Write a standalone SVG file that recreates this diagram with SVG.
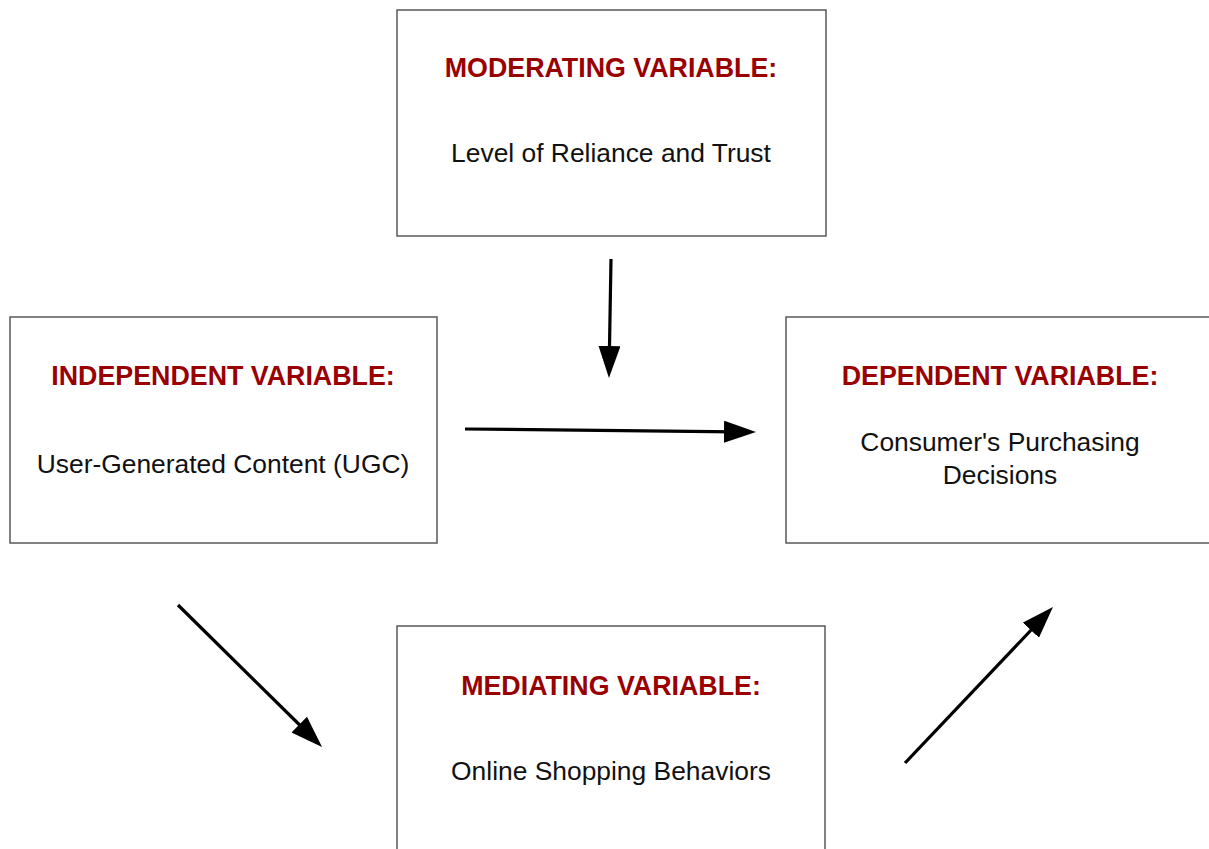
<svg xmlns="http://www.w3.org/2000/svg" width="1209" height="849" viewBox="0 0 1209 849">
  <style>
    .box { fill: #ffffff; stroke: #595959; stroke-width: 1.5; }
    .title { font-family: "Liberation Sans", Arial, sans-serif; font-weight: bold; font-size: 26.8px; fill: #990000; text-anchor: middle; }
    .body { font-family: "Liberation Sans", Arial, sans-serif; font-size: 26.4px; fill: #111111; text-anchor: middle; }
    .link { stroke: #000000; stroke-width: 3.2; fill: none; marker-end: url(#head); }
  </style>
  <defs>
    <marker id="head" markerUnits="userSpaceOnUse" markerWidth="32" markerHeight="22" refX="12" refY="11" orient="auto">
      <path d="M0,0 L32,11 L0,22 z" fill="#000000"/>
    </marker>
  </defs>
  <rect width="1209" height="849" fill="#ffffff"/>

  <g id="moderating">
    <rect class="box" x="397" y="10" width="429" height="226"/>
    <text class="title" x="611" y="77">MODERATING VARIABLE:</text>
    <text class="body" x="611" y="162">Level of Reliance and Trust</text>
  </g>

  <g id="independent">
    <rect class="box" x="10" y="317" width="427" height="226"/>
    <text class="title" x="223" y="385">INDEPENDENT VARIABLE:</text>
    <text class="body" x="223" y="473">User-Generated Content (UGC)</text>
  </g>

  <g id="dependent">
    <rect class="box" x="786" y="317" width="428" height="226"/>
    <text class="title" x="1000" y="385">DEPENDENT VARIABLE:</text>
    <text class="body" x="1000" y="451">Consumer's Purchasing</text>
    <text class="body" x="1000" y="484">Decisions</text>
  </g>

  <g id="mediating">
    <rect class="box" x="397" y="626" width="428" height="240"/>
    <text class="title" x="611" y="695">MEDIATING VARIABLE:</text>
    <text class="body" x="611" y="780">Online Shopping Behaviors</text>
  </g>

  <g id="connectors">
    <line class="link" x1="611" y1="259" x2="609.3" y2="358"/>
    <line class="link" x1="465" y1="429" x2="736" y2="431.8"/>
    <line class="link" x1="178" y1="605" x2="307.8" y2="733"/>
    <line class="link" x1="905" y1="763" x2="1039.2" y2="621.5"/>
  </g>
</svg>
